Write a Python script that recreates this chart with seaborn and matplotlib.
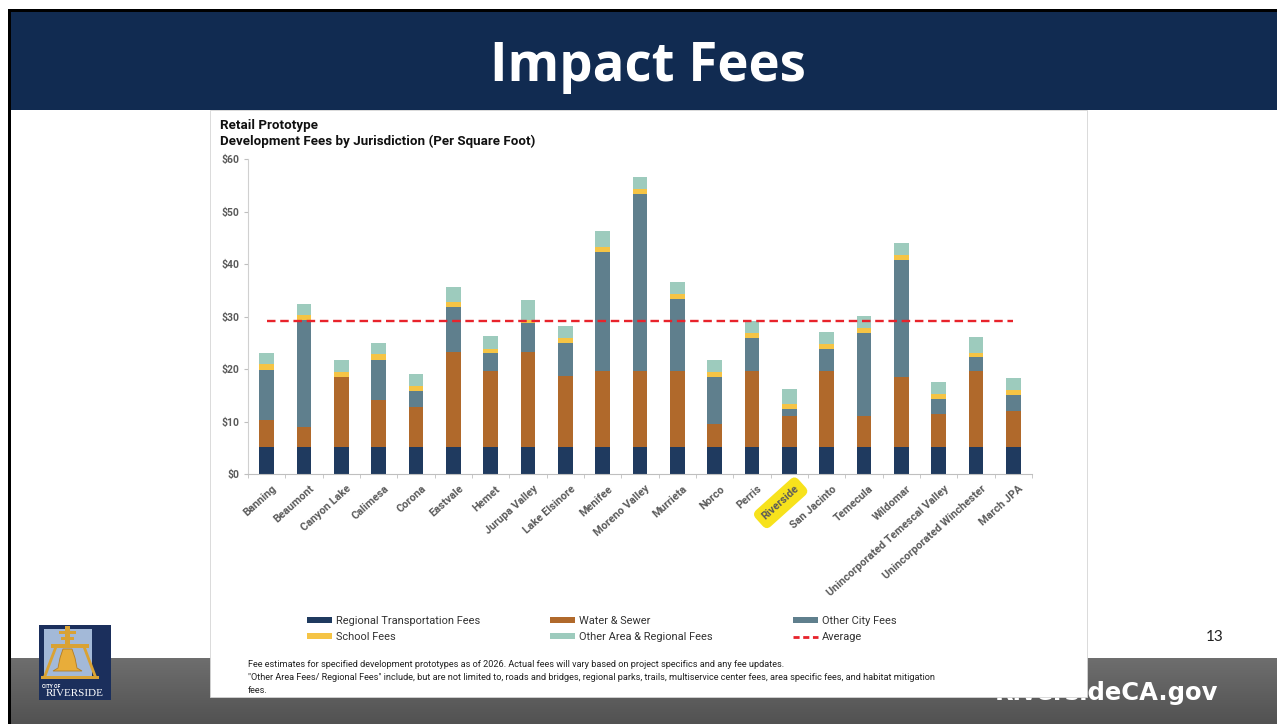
import numpy as np
import pandas as pd
import matplotlib.pyplot as plt
import seaborn as sns
import matplotlib.transforms as mtransforms
from matplotlib.patches import Rectangle, Polygon, Patch
from matplotlib.lines import Line2D
from matplotlib.ticker import StrMethodFormatter
from matplotlib.colors import LinearSegmentedColormap

plt.rcParams["font.family"] = ["Roboto", "DejaVu Sans"]

# fee components per square foot
jurisdictions = ["Banning", "Beaumont", "Canyon Lake", "Calimesa", "Corona", "Eastvale", "Hemet",
                 "Jurupa Valley", "Lake Elsinore", "Menifee", "Moreno Valley", "Murrieta", "Norco",
                 "Perris", "Riverside", "San Jacinto", "Temecula", "Wildomar",
                 "Unincorporated Temescal Valley", "Unincorporated Winchester", "March JPA"]
regional_transportation = [5.2, 5.2, 5.2, 5.2, 5.2, 5.2, 5.2, 5.2, 5.2, 5.2, 5.2,
                           5.2, 5.2, 5.2, 5.2, 5.2, 5.2, 5.2, 5.2, 5.2, 5.2]
water_sewer = [5.1, 3.7, 13.3, 8.9, 7.6, 18.1, 14.4, 18.1, 13.4, 14.4, 14.4,
               14.4, 4.3, 14.4, 5.9, 14.4, 5.9, 13.3, 6.2, 14.4, 6.8]
other_city = [9.6, 20.5, 0.0, 7.7, 3.0, 8.5, 3.4, 5.4, 6.4, 22.7, 33.7,
              13.7, 9.0, 6.4, 1.2, 4.2, 15.8, 22.3, 2.9, 2.6, 3.0]
school = [1.0, 0.8, 1.0, 1.0, 0.9, 0.9, 0.9, 0.7, 0.9, 0.9, 0.9,
          0.9, 1.0, 0.9, 1.0, 0.9, 0.9, 0.9, 0.9, 0.9, 1.0]
other_area = [2.2, 2.2, 2.2, 2.2, 2.3, 2.9, 2.4, 3.7, 2.3, 3.0, 2.4,
              2.4, 2.2, 2.3, 2.9, 2.3, 2.3, 2.3, 2.3, 3.0, 2.3]
average = 29.2

series = ["Regional Transportation Fees", "Water & Sewer", "Other City Fees",
          "School Fees", "Other Area & Regional Fees"]
colors = ["#1f3a5f", "#b0692b", "#5f7f8d", "#f5c445", "#9dcbbd"]

df = pd.DataFrame({"Jurisdiction": jurisdictions,
                   series[0]: regional_transportation, series[1]: water_sewer,
                   series[2]: other_city, series[3]: school, series[4]: other_area})
cum = df[series].cumsum(axis=1)
cum["Jurisdiction"] = jurisdictions

W, H = 1277, 724
fig = plt.figure(figsize=(W / 100, H / 100), dpi=100)
slide_font = ["Open Sans", "DejaVu Sans"]

# slide background in pixel coordinates
bg = fig.add_axes([0, 0, 1, 1], zorder=0)
bg.axis("off")
bg.add_patch(Rectangle((8, 9), W, 3, fc="black", ec="none", zorder=2))
bg.add_patch(Rectangle((8, 9), 3, H, fc="black", ec="none", zorder=2))
bg.add_patch(Rectangle((11, 12), W, 98, fc="#112b51", ec="none", zorder=1))
band = LinearSegmentedColormap.from_list("band", ["#6e6e6e", "#525252"])
bg.imshow(np.linspace(0, 1, 64).reshape(-1, 1), cmap=band, extent=[11, W, H, 658],
          aspect="auto", zorder=1)
bg.text(1218, 700, "RiversideCA.gov", color="white", fontsize=17.5, fontweight="bold",
        family="DejaVu Sans", ha="right", va="baseline", zorder=2)
bg.add_patch(Rectangle((210, 110), 877, 587, fc="white", ec="#d4d4d4", lw=0.6, zorder=3))
bg.text(648, 81, "Impact Fees", color="white", fontsize=38, fontweight="bold",
        family=slide_font, ha="center", va="baseline", zorder=4)
bg.text(1215, 637, "13", color="#222222", fontsize=11, family=["Lato", "DejaVu Sans"],
        ha="center", va="center", zorder=4)

# city logo
bg.add_patch(Rectangle((39, 625), 72, 75, fc="#1b2f5c", ec="none", zorder=4))
bg.add_patch(Rectangle((44, 629), 48, 47, fc="#a3b9d8", ec="none", zorder=5))
gold = "#d9a234"
bg.add_patch(Rectangle((65, 626), 5, 20, fc=gold, ec="none", zorder=6))
bg.add_patch(Rectangle((59, 631), 17, 3, fc=gold, ec="none", zorder=6))
bg.add_patch(Rectangle((61, 637), 13, 3, fc=gold, ec="none", zorder=6))
bg.add_patch(Rectangle((51, 644), 38, 4, fc=gold, ec="none", zorder=6))
bg.add_patch(Polygon([(54, 648), (57, 648), (46, 677), (43, 677)], fc=gold, ec="none", zorder=6))
bg.add_patch(Polygon([(83, 648), (86, 648), (97, 677), (94, 677)], fc=gold, ec="none", zorder=6))
bg.add_patch(Rectangle((41, 676), 58, 3, fc=gold, ec="none", zorder=6))
bg.add_patch(Polygon([(63, 649), (72, 649), (75, 658), (77, 668), (82, 671), (53, 671),
                      (58, 668), (60, 658)], fc="#e8ad3a", ec="#b47d22", lw=0.6, zorder=6))
bg.text(42, 687, "CITY OF", color="white", fontsize=3.6, fontweight="bold", va="center", zorder=6)
bg.text(75, 694, "RIVERSIDE", color="white", fontsize=8, family=["Liberation Serif", "DejaVu Serif"],
        ha="center", va="center", zorder=6)

# footnote
notes = ["Fee estimates for specified development prototypes as of 2026. Actual fees will vary based on project specifics and any fee updates.",
         "\"Other Area Fees/ Regional Fees\" include, but are not limited to, roads and bridges, regional parks, trails, multiservice center fees, area specific fees, and habitat mitigation",
         "fees."]
for i, line in enumerate(notes):
    bg.text(248, 667 + 13 * i, line, color="#222222", fontsize=6.6, va="baseline", zorder=4)

bg.text(220, 125, "Retail Prototype", fontsize=9.6, fontweight="bold", color="#111111",
        va="center", zorder=4)
bg.text(220, 141, "Development Fees by Jurisdiction (Per Square Foot)", fontsize=9.6,
        fontweight="bold", color="#111111", va="center", zorder=4)
bg.set_xlim(0, W)
bg.set_ylim(H, 0)

# chart
ax = fig.add_axes([248 / W, 1 - 474 / H, 784 / W, 315 / H], zorder=2)
ax.patch.set_alpha(0)
for i in range(len(series) - 1, -1, -1):
    sns.barplot(data=cum, x="Jurisdiction", y=series[i], order=jurisdictions, color=colors[i],
                width=0.4, saturation=1, errorbar=None, ax=ax, zorder=2)
ax.hlines(average, 0, len(jurisdictions) - 1, colors="#e8232b", linewidth=1.7,
          linestyles=(0, (3.6, 2.0)), zorder=3)

ax.set_xlim(-0.5, len(jurisdictions) - 0.5)
ax.set_ylim(0, 60)
ax.set_yticks(range(0, 61, 10))
ax.yaxis.set_major_formatter(StrMethodFormatter("${x:,.0f}"))
ax.set_xlabel("")
ax.set_ylabel("")
for s in ["top", "right"]:
    ax.spines[s].set_visible(False)
ax.spines["left"].set_color("#d0d0d0")
ax.spines["bottom"].set_color("#bfbfbf")
ax.set_xticks(np.arange(-0.5, len(jurisdictions), 1), minor=True)
ax.tick_params(axis="x", which="major", length=0, pad=7)
ax.tick_params(axis="x", which="minor", length=3, color="#bfbfbf")
ax.tick_params(axis="y", length=3, color="#bfbfbf", pad=3)
for lab in ax.get_yticklabels():
    lab.set_fontsize(7.5)
    lab.set_fontweight("bold")
    lab.set_color("#5a5a5a")
offset = mtransforms.ScaledTranslation(0.05, 0, fig.dpi_scale_trans)
for lab in ax.get_xticklabels():
    lab.set_rotation(42)
    lab.set_ha("right")
    lab.set_rotation_mode("anchor")
    lab.set_fontsize(7.8)
    lab.set_fontweight("bold")
    lab.set_color("#5a5a5a")
    lab.set_transform(lab.get_transform() + offset)
    if lab.get_text() == "Riverside":
        lab.set_bbox(dict(boxstyle="round,pad=0.55", fc="#f7e21c", ec="none"))

# legend, three columns
handles = [Patch(fc=c, ec="none") for c in colors]
avg_handle = Line2D([], [], color="#e8232b", linewidth=2, linestyle=(0, (2.2, 1.3)))
columns = [([handles[0], handles[3]], [series[0], series[3]], 307),
           ([handles[1], handles[4]], [series[1], series[4]], 550),
           ([handles[2], avg_handle], [series[2], "Average"], 793)]
for hs, labels, x0 in columns:
    leg = fig.legend(hs, labels, loc="upper left", bbox_to_anchor=(x0 / W, 1 - 616 / H),
                     frameon=False, fontsize=7.9, handlelength=2.3, handleheight=0.5,
                     handletextpad=0.3, labelspacing=0.55, borderpad=0, borderaxespad=0)
    for t in leg.get_texts():
        t.set_color("#333333")

fig.savefig("out.png", dpi=100)
